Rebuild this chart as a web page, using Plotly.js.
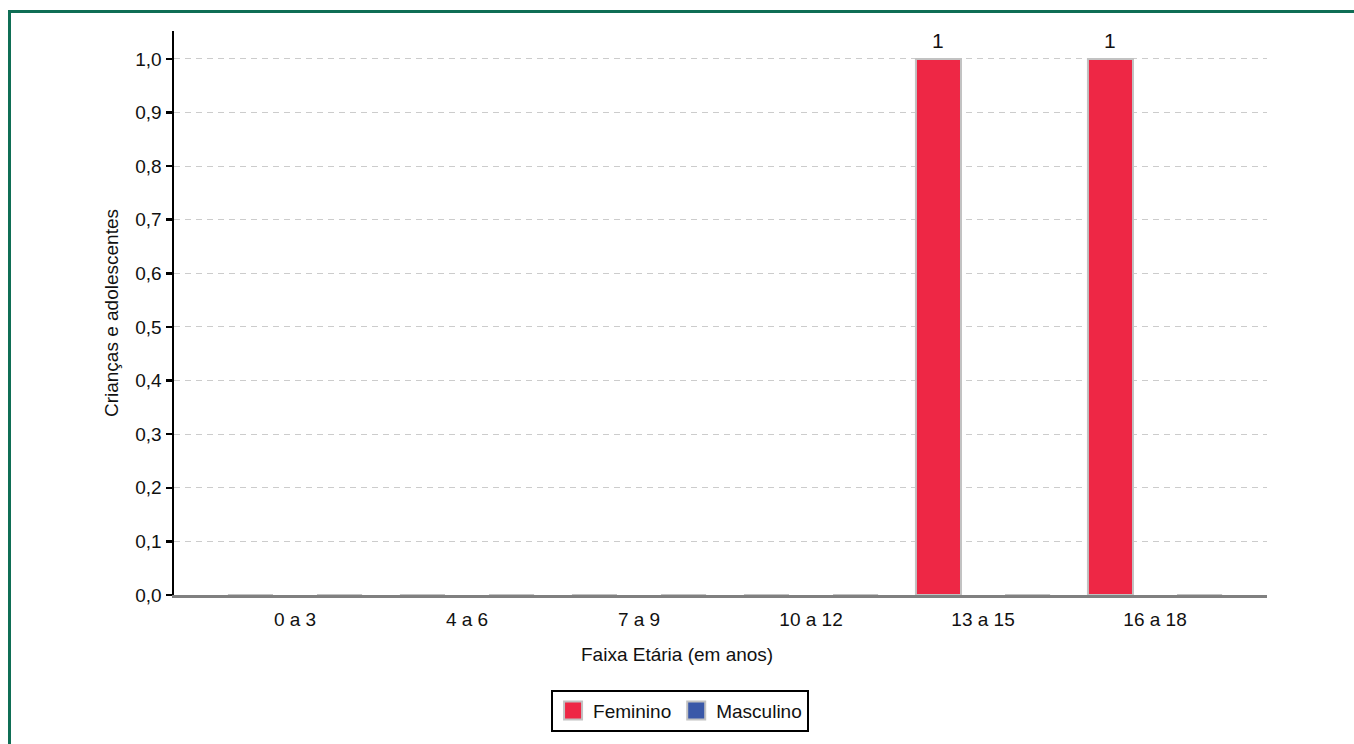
<!DOCTYPE html>
<html>
<head>
<meta charset="utf-8">
<script src="https://cdn.plot.ly/plotly-3.0.1.min.js"></script>
<style>
  html, body { margin: 0; padding: 0; background: #ffffff; width: 1354px; height: 744px; overflow: hidden; }
  #frame { position: absolute; left: 8px; top: 10px; width: 1400px; height: 800px;
           border-left: 3px solid #0f6e55; border-top: 3px solid #0f6e55; }
  #chart { position: absolute; left: 0; top: 0; width: 1354px; height: 744px; }
</style>
</head>
<body>
<div id="frame"></div>
<div id="chart"></div>
<script>
// ---- data ----
const categories = ['0 a 3', '4 a 6', '7 a 9', '10 a 12', '13 a 15', '16 a 18'];
const feminino   = [0, 0, 0, 0, 1, 1];
const masculino  = [0, 0, 0, 0, 0, 0];
const seriesNames = ['Feminino', 'Masculino'];
const yTickVals = [0, 0.1, 0.2, 0.3, 0.4, 0.5, 0.6, 0.7, 0.8, 0.9, 1.0];
const xTitle = 'Faixa Etária (em anos)';
const yTitle = 'Crianças e adolescentes';

const FONT = 'Liberation Sans, Arial, Helvetica, sans-serif';
const barWidth = 0.262;
const offsets = [-0.39, 0.128];
const colors = ['#ee2745', '#3a58a8'];

const traces = [feminino, masculino].map((vals, k) => ({
  type: 'bar',
  name: seriesNames[k],
  x: categories,
  y: vals,
  width: barWidth,
  offset: offsets[k],
  marker: { color: colors[k], line: { color: '#c2c2c2', width: 2 } },
  hoverinfo: 'x+y'
}));

// value labels above non-zero bars
const annotations = [];
[feminino, masculino].forEach((vals, k) => {
  vals.forEach((v, i) => {
    if (v > 0) {
      annotations.push({
        x: categories[i], y: v, xref: 'x', yref: 'y',
        text: String(v), showarrow: false,
        xanchor: 'center', yanchor: 'bottom',
        xshift: (offsets[k] + barWidth / 2) * 172,
        yshift: 5,
        font: { family: FONT, size: 21, color: '#111111' }
      });
    }
  });
});
annotations.push({
  x: 0.46, y: -0.106, xref: 'paper', yref: 'paper',
  text: xTitle, showarrow: false, xanchor: 'center', yanchor: 'middle',
  font: { family: FONT, size: 19, color: '#111111' }
});

const layout = {
  width: 1354, height: 744,
  paper_bgcolor: 'rgba(0,0,0,0)',
  plot_bgcolor: 'rgba(0,0,0,0)',
  margin: { l: 174, r: 87, t: 31, b: 144, pad: 0 },
  separators: ',.',
  showlegend: true,
  barmode: 'overlay',
  font: { family: FONT, size: 19, color: '#111111' },
  xaxis: {
    type: 'category',
    range: [-0.7035, 5.651],
    showgrid: false,
    showline: true, linecolor: '#808080', linewidth: 3,
    ticks: '', ticklabelstandoff: 5,
    tickfont: { family: FONT, size: 19, color: '#111111' },
    zeroline: false, fixedrange: true
  },
  yaxis: {
    range: [0, 1.052],
    tickvals: yTickVals,
    tickformat: '.1f',
    showline: true, linecolor: '#000000', linewidth: 2.5,
    ticks: 'outside', ticklen: 6, tickwidth: 2.5, tickcolor: '#000000',
    showgrid: true, gridcolor: '#cccccc', gridwidth: 1, griddash: '6px,5px',
    zeroline: false,
    tickfont: { family: FONT, size: 19, color: '#111111' },
    title: { text: yTitle, standoff: 12, font: { family: FONT, size: 19, color: '#111111' } },
    fixedrange: true
  },
  legend: {
    orientation: 'h',
    x: 0.463, xanchor: 'center',
    y: -0.168, yanchor: 'top',
    bordercolor: '#000000', borderwidth: 2,
    bgcolor: '#ffffff',
    font: { family: FONT, size: 19, color: '#111111' },
    itemclick: false, itemdoubleclick: false
  },
  annotations: annotations
};

Plotly.newPlot('chart', traces, layout, { displayModeBar: false, staticPlot: true }).then(gd => {
  // enlarge legend swatches to match the reference
  document.querySelectorAll('.legend .legendpoints path').forEach(p => {
    p.setAttribute('d', 'M9,9H-9V-9H9Z');
    p.style.strokeWidth = '2px';
  });
});
</script>
</body>
</html>
